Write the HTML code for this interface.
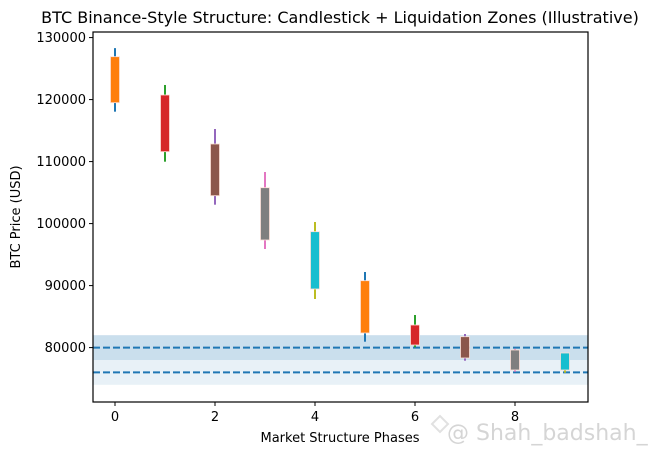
<!DOCTYPE html>
<html><head><meta charset="utf-8">
<style>
html,body{margin:0;padding:0;background:#fff;}
svg{display:block;font-family:"DejaVu Sans","Liberation Sans",sans-serif;}
</style></head>
<body>
<svg id="chart" width="660" height="455" viewBox="0 0 660 455" xmlns="http://www.w3.org/2000/svg">
<text x="340" y="23" text-anchor="middle" font-size="16" fill="#000">BTC Binance-Style Structure: Candlestick + Liquidation Zones (Illustrative)</text>
<text transform="translate(20,217) rotate(-90)" text-anchor="middle" font-size="13" fill="#000">BTC Price (USD)</text>
<text x="340" y="442" text-anchor="middle" font-size="13" fill="#000">Market Structure Phases</text>
<g id="plot"></g>
<g opacity="0.75">
<text x="447" y="440" font-size="22" fill="#c8c8c8">@ Shah_badshah_</text>
<path d="M432 424 l8 -8 l8 8 l-8 8 z" fill="none" stroke="#d8d8d8" stroke-width="2"/>
</g>
</svg>
<script>
const phases = [0,1,2,3,4,5,6,7,8,9];
const opens  = [119500,120742,112839,105790,98694,90790,83645,81758,79613,79129];
const closes = [126919,111597,104500,97355,89452,82355,80419,78323,76387,76387];
const highs  = [128300,122355,115258,108323,100258,92194,85258,82194,79800,79129];
const lows   = [118050,109984,103048,95903,87839,80952,80048,77887,76113,75952];
const zoneOuter = [74000,82000];
const zoneInner = [78000,82000];
const liqLines = [80000,76000];
const yTicks = [80000,90000,100000,110000,120000,130000];
const xTicks = [0,2,4,6,8];

const L=93,R=588,T=32,B=402;
const xMin=-0.44,xMax=9.46,yMin=71226,yMax=130900;
const xs=v=>L+(v-xMin)/(xMax-xMin)*(R-L);
const ys=v=>B-(v-yMin)/(yMax-yMin)*(B-T);
const tab=["#1f77b4","#ff7f0e","#2ca02c","#d62728","#9467bd","#8c564b","#e377c2","#7f7f7f","#bcbd22","#17becf"];
const NS="http://www.w3.org/2000/svg";
const g=document.getElementById('plot');
function mk(tag,attrs,parent){const e=document.createElementNS(NS,tag);for(const k in attrs)e.setAttribute(k,attrs[k]);(parent||g).appendChild(e);return e;}

let e;
e=mk('rect',{x:L,y:ys(zoneOuter[1]),width:R-L,height:ys(zoneOuter[0])-ys(zoneOuter[1]),fill:"#1f77b4","fill-opacity":0.1});


e=mk('rect',{x:L,y:ys(zoneInner[1]),width:R-L,height:ys(zoneInner[0])-ys(zoneInner[1]),fill:"#1f77b4","fill-opacity":0.15});


liqLines.forEach((v,i)=>{
  e=mk('line',{x1:L,x2:R,y1:ys(v),y2:ys(v),stroke:"#1f77b4","stroke-width":2,"stroke-dasharray":"7,3"});
  
  
});
phases.forEach((p,i)=>{
  const cx=xs(p);
  e=mk('line',{x1:cx,x2:cx,y1:ys(highs[i]),y2:ys(lows[i]),stroke:tab[(2*i)%10],"stroke-width":2});
  
  
  const top=Math.max(opens[i],closes[i]),bot=Math.min(opens[i],closes[i]);
  e=mk('rect',{x:cx-4.5,y:ys(top),width:9,height:ys(bot)-ys(top),fill:tab[(2*i+1)%10],stroke:"#fde0d8","stroke-width":0.8});
  
  
});
e=mk('rect',{x:L,y:T,width:R-L,height:B-T,fill:"none",stroke:"#000","stroke-width":1.2});


yTicks.forEach(v=>{
  const y=ys(v);
  e=mk('line',{x1:L-4,x2:L,y1:y,y2:y,stroke:"#000","stroke-width":1});
  
  
  e=mk('text',{x:L-7,y:y+4.5,"text-anchor":"end","font-size":13,fill:"#000"});
  e.textContent=v;
  
  
});
xTicks.forEach(v=>{
  const x=xs(v);
  e=mk('line',{x1:x,x2:x,y1:B,y2:B+4,stroke:"#000","stroke-width":1});
  
  
  e=mk('text',{x:x,y:B+19,"text-anchor":"middle","font-size":13,fill:"#000"});
  e.textContent=v;
  
  
});
</script>
</body></html>
